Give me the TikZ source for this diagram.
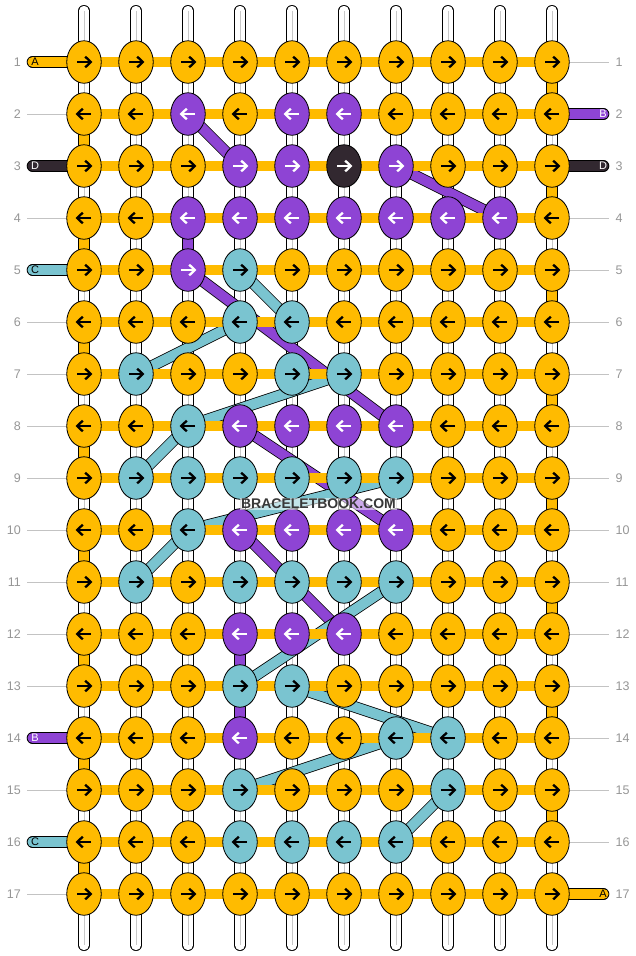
\documentclass[tikz,border=0pt]{standalone}
\usepackage{fontspec}
\setmainfont{Liberation Sans}
\usetikzlibrary{shapes.geometric,calc}
\definecolor{Y}{RGB}{255,187,0}
\definecolor{P}{RGB}{142,68,212}
\definecolor{T}{RGB}{122,196,208}
\definecolor{D}{RGB}{50,40,48}
\definecolor{arrY}{RGB}{0,0,0}
\definecolor{arrP}{RGB}{255,255,255}
\definecolor{arrT}{RGB}{0,0,0}
\definecolor{arrD}{RGB}{255,255,255}
\definecolor{numgray}{RGB}{150,150,150}
\definecolor{linegray}{RGB}{195,195,195}
\definecolor{midgray}{RGB}{200,200,200}
\begin{document}
\begin{tikzpicture}[x=1pt,y=-1pt,
  knot/.style={ellipse, draw=black, line width=0.8pt, minimum width=34.5pt, minimum height=42.5pt, inner sep=0pt},
  band/.style={draw=black, double=#1, double distance=10pt, line width=0.8pt},
  strandline/.style={draw=black, double=white, double distance=10pt, line width=0.8pt, line cap=round},
  tabline/.style={draw=black, double=#1, double distance=10pt, line width=0.8pt, line cap=round},
  hbar/.style={draw=Y, line width=10.8pt},
  arrowline/.style={line width=2.3pt, line join=miter},
  numlab/.style={text=numgray, font=\fontsize{12.5}{13}\selectfont, inner sep=0pt},
  tablab/.style={font=\fontsize{11}{11}\selectfont, inner sep=0pt},
  guide/.style={draw=linegray, line width=0.8pt}
]
\useasboundingbox (0,0) rectangle (636,956);
\fill[white] (0,0) rectangle (636,956);

% grid coordinates
\foreach \r in {1,...,17}{
  \foreach \cc in {1,...,10}{
    \coordinate (p\r-\cc) at ({84+52*(\cc-1)},{62+52*(\r-1)});
  }
  \coordinate (lg\r) at (27,{62+52*(\r-1)});
  \coordinate (rg\r) at (609,{62+52*(\r-1)});
  \coordinate (lt\r) at (32.5,{62+52*(\r-1)});
  \coordinate (rt\r) at (603.5,{62+52*(\r-1)});
}

% white base strands
\foreach \cc in {1,...,10}{
  \coordinate (top\cc) at ({84+52*(\cc-1)},10.8);
  \coordinate (bot\cc) at ({84+52*(\cc-1)},945.2);
  \draw[strandline] (top\cc) -- (bot\cc);
  \draw[draw=midgray, line width=0.9pt] (top\cc) -- (bot\cc);
}

% yellow turns at the edges
\foreach \r in {2,4,...,16}{
  \pgfmathtruncatemacro\rn{\r+1}
  \draw[band=Y] (p\r-1) -- (p\rn-1);
}
\foreach \r in {1,3,...,15}{
  \pgfmathtruncatemacro\rn{\r+1}
  \draw[band=Y] (p\r-10) -- (p\rn-10);
}

% purple strand B
\foreach \a/\b in {2-3/3-4, 3-7/4-9, 4-3/5-3, 5-3/8-7, 8-4/10-7, 10-4/12-6, 12-4/14-4}
  \draw[band=P] (p\a) -- (p\b);
% teal strand C
\foreach \a/\b in {5-4/6-5, 6-4/7-2, 7-6/8-3, 8-3/9-2, 9-7/10-3, 10-3/11-2, 11-7/13-4, 13-5/14-8, 14-7/15-4, 15-8/16-7}
  \draw[band=T] (p\a) -- (p\b);

% horizontal background strand
\foreach \r in {1,...,17}
  \draw[hbar] (p\r-1) -- (p\r-10);

% tabs
\foreach \r/\col/\lab/\tc in {1/Y/A/black, 3/D/D/white, 5/T/C/black, 14/P/B/white, 16/T/C/black}{
  \draw[tabline=\col] (p\r-1) -- (lt\r);
  \node[tablab, text=\tc] (ltl\r) at ($(lt\r)+(2.5,0)$) {\lab};
}
\foreach \r/\col/\lab/\tc in {2/P/B/white, 3/D/D/white, 17/Y/A/black}{
  \draw[tabline=\col] (p\r-10) -- (rt\r);
  \node[tablab, text=\tc] (rtl\r) at ($(rt\r)+(-0.5,0)$) {\lab};
}

% guide lines
\foreach \r in {2,4,6,7,8,9,10,11,12,13,15,17}
  \draw[guide] (lg\r) -- (p\r-1);
\foreach \r in {1,4,5,6,7,8,9,10,11,12,13,14,15,16}
  \draw[guide] (p\r-10) -- (rg\r);

% row numbers
\foreach \r in {1,...,17}{
  \node[numlab, anchor=east] (nl\r) at (21,{62+52*(\r-1)}) {\r};
  \node[numlab, anchor=west] (nr\r) at (615.5,{62+52*(\r-1)}) {\r};
}

% knots
\foreach \r/\row in {
  1/{Y,Y,Y,Y,Y,Y,Y,Y,Y,Y},
  2/{Y,Y,P,Y,P,P,Y,Y,Y,Y},
  3/{Y,Y,Y,P,P,D,P,Y,Y,Y},
  4/{Y,Y,P,P,P,P,P,P,P,Y},
  5/{Y,Y,P,T,Y,Y,Y,Y,Y,Y},
  6/{Y,Y,Y,T,T,Y,Y,Y,Y,Y},
  7/{Y,T,Y,Y,T,T,Y,Y,Y,Y},
  8/{Y,Y,T,P,P,P,P,Y,Y,Y},
  9/{Y,T,T,T,T,T,T,Y,Y,Y},
  10/{Y,Y,T,P,P,P,P,Y,Y,Y},
  11/{Y,T,Y,T,T,T,T,Y,Y,Y},
  12/{Y,Y,Y,P,P,P,Y,Y,Y,Y},
  13/{Y,Y,Y,T,T,Y,Y,Y,Y,Y},
  14/{Y,Y,Y,P,Y,Y,T,T,Y,Y},
  15/{Y,Y,Y,T,Y,Y,Y,T,Y,Y},
  16/{Y,Y,Y,T,T,T,T,Y,Y,Y},
  17/{Y,Y,Y,Y,Y,Y,Y,Y,Y,Y}}{
  \pgfmathtruncatemacro\dir{mod(\r,2)==1 ? 1 : -1}
  \foreach \kc [count=\cc] in \row {
    \node[knot, fill=\kc] (k\r-\cc) at (p\r-\cc) {};
    \begin{scope}[shift={(p\r-\cc)}, xscale=\dir]
      \draw[arrowline, color=arr\kc] (-7,0) -- (6,0);
      \draw[arrowline, color=arr\kc] (1.2,-5.4) -- (6.7,0) -- (1.2,5.4);
    \end{scope}
  }
}

% watermark
\node[fill=white, fill opacity=0.55, text opacity=1, text=black!78,
      font=\bfseries\fontsize{14}{14}\selectfont, inner sep=1.5pt] (wm) at (318.5,504) {BRACELETBOOK.COM};
\end{tikzpicture}
\end{document}
